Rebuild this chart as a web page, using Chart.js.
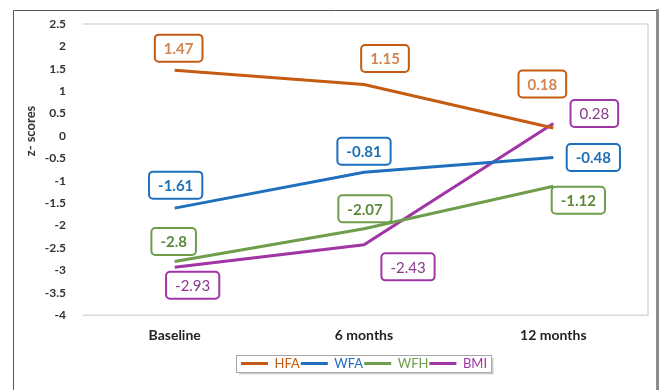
<!DOCTYPE html>
<html>
<head>
<meta charset="utf-8">
<script src="https://cdn.jsdelivr.net/npm/chart.js@4/dist/chart.umd.min.js"></script>
<style>
  html, body { margin: 0; padding: 0; background: #fff; }
</style>
</head>
<body>
<canvas id="zChart" width="661" height="390"></canvas>
<script>
// z-score series per time point
const categories = ['Baseline', '6 months', '12 months'];
const hfa = [1.47, 1.15, 0.18];
const wfa = [-1.61, -0.81, -0.48];
const wfh = [-2.8, -2.07, -1.12];
const bmi = [-2.93, -2.43, 0.28];
const yTicks = [2.5, 2, 1.5, 1, 0.5, 0, -0.5, -1, -1.5, -2, -2.5, -3, -3.5, -4];

const FONT = 'Lato, "Open Sans", sans-serif';

// colours for each series: line, value text, bold value text
const seriesStyle = {
  HFA: { line: '#c55a11', text: '#d4844f', bold: true },
  WFA: { line: '#1f6fbf', text: '#1f6fb5', bold: true },
  WFH: { line: '#6e9e4c', text: '#5a8a3a', bold: true },
  BMI: { line: '#a035a5', text: '#8a3a8c', bold: false },
};

// where each value box sits relative to its point (dx, dy)
const labelOffsets = {
  HFA: [[4, -22], [21, -26], [-11, -44]],
  WFA: [[1, -23], [0, -21], [40, 0]],
  WFH: [[-1, -20], [1, -20], [25, 14]],
  BMI: [[18, 18], [44, 22], [41, -10]],
};

function makeSeries(label, data) {
  return {
    label: label,
    data: data,
    borderColor: seriesStyle[label].line,
    backgroundColor: seriesStyle[label].line,
    borderWidth: 3,
    pointRadius: 0,
    tension: 0,
    fill: false,
  };
}

// outer figure border, plot frame and the axis title
const framePlugin = {
  id: 'frame',
  beforeDraw(chart) {
    const ctx = chart.ctx;
    const a = chart.chartArea;
    ctx.save();
    ctx.strokeStyle = '#555';
    ctx.lineWidth = 1;
    ctx.beginPath();
    ctx.moveTo(13.5, 390);
    ctx.lineTo(13.5, 10.5);
    ctx.lineTo(657, 10.5);
    ctx.stroke();
    ctx.strokeStyle = '#8c8c8c';
    ctx.lineWidth = 3;
    ctx.beginPath();
    ctx.moveTo(657.5, 9);
    ctx.lineTo(657.5, 390);
    ctx.stroke();

    ctx.strokeStyle = '#d9d9d9';
    ctx.lineWidth = 1.5;
    ctx.beginPath();
    ctx.moveTo(a.left + 3, a.top);
    ctx.lineTo(a.right, a.top);
    ctx.lineTo(a.right, a.bottom);
    ctx.lineTo(a.left + 3, a.bottom);
    ctx.stroke();

    ctx.translate(31, 131);
    ctx.rotate(-Math.PI / 2);
    ctx.font = 'bold 13px ' + FONT;
    ctx.fillStyle = '#333';
    ctx.textAlign = 'center';
    ctx.textBaseline = 'middle';
    ctx.fillText('z- scores', 0, 0);
    ctx.restore();
  }
};

// rounded value boxes next to every point
const valueBoxes = {
  id: 'valueBoxes',
  afterDatasetsDraw(chart) {
    const ctx = chart.ctx;
    ctx.save();
    chart.data.datasets.forEach((ds, di) => {
      const meta = chart.getDatasetMeta(di);
      const st = seriesStyle[ds.label];
      meta.data.forEach((pt, i) => {
        const text = String(ds.data[i]);
        const off = labelOffsets[ds.label][i];
        const cx = pt.x + off[0];
        const cy = pt.y + off[1];
        ctx.font = (st.bold ? 'bold ' : '') + '15px ' + FONT;
        const w = ctx.measureText(text).width + 18;
        const h = 27;
        ctx.beginPath();
        ctx.roundRect(cx - w / 2, cy - h / 2, w, h, 4);
        ctx.fillStyle = '#fff';
        ctx.fill();
        ctx.lineWidth = 2;
        ctx.strokeStyle = st.line;
        ctx.stroke();
        ctx.fillStyle = st.text;
        ctx.textAlign = 'center';
        ctx.textBaseline = 'middle';
        ctx.fillText(text, cx, cy + 1);
      });
    });
    ctx.restore();
  }
};

// frame with a soft shadow round the legend
const legendFrame = {
  id: 'legendFrame',
  afterDraw(chart) {
    const boxes = chart.legend.legendHitBoxes;
    if (!boxes || !boxes.length) return;
    const left = Math.min(...boxes.map(b => b.left)) - 5;
    const right = Math.max(...boxes.map(b => b.left + b.width)) + 4;
    const top = boxes[0].top - 2;
    const bottom = boxes[0].top + boxes[0].height + 2;
    const ctx = chart.ctx;
    ctx.save();
    ctx.strokeStyle = '#d0d0d0';
    ctx.lineWidth = 2;
    ctx.beginPath();
    ctx.moveTo(left + 3, bottom + 1.5);
    ctx.lineTo(right + 1.5, bottom + 1.5);
    ctx.lineTo(right + 1.5, top + 3);
    ctx.stroke();
    ctx.strokeStyle = '#a6a6a6';
    ctx.lineWidth = 1;
    ctx.strokeRect(Math.round(left) + 0.5, Math.round(top) + 0.5, Math.round(right - left), Math.round(bottom - top));
    ctx.restore();
  }
};

const ctx = document.getElementById('zChart').getContext('2d');

new Chart(ctx, {
  type: 'line',
  data: {
    labels: categories,
    datasets: [
      makeSeries('HFA', hfa),
      makeSeries('WFA', wfa),
      makeSeries('WFH', wfh),
      makeSeries('BMI', bmi),
    ],
  },
  options: {
    responsive: false,
    animation: false,
    devicePixelRatio: 1,
    layout: {
      padding: { left: 20, right: 13, top: 24, bottom: 10 },
    },
    scales: {
      x: {
        offset: true,
        grid: { display: false, drawTicks: false },
        border: { display: false },
        ticks: {
          padding: 12,
          color: '#222',
          font: { family: FONT, size: 14, weight: 'bold' },
        },
      },
      y: {
        min: -4,
        max: 2.5,
        grid: { display: false, drawTicks: false },
        border: { display: false },
        afterBuildTicks: (scale) => {
          scale.ticks = yTicks.map(v => ({ value: v }));
        },
        afterFit: (scale) => {
          scale.width = 60;
        },
        ticks: {
          padding: 14,
          color: '#333',
          font: { family: FONT, size: 12, weight: 'bold' },
          callback: (value) => String(value),
        },
      },
    },
    plugins: {
      legend: {
        position: 'bottom',
        fullSize: false,
        labels: {
          boxWidth: 27,
          boxHeight: 3,
          padding: 1,
          font: { family: FONT, size: 13 },
          generateLabels: (chart) => chart.data.datasets.map((ds, i) => ({
            text: ds.label,
            fillStyle: ds.borderColor,
            strokeStyle: ds.borderColor,
            lineWidth: 0,
            fontColor: ds.borderColor,
            hidden: false,
            datasetIndex: i,
          })),
        },
      },
      tooltip: { enabled: false },
    },
  },
  plugins: [framePlugin, valueBoxes, legendFrame],
});
</script>
</body>
</html>
